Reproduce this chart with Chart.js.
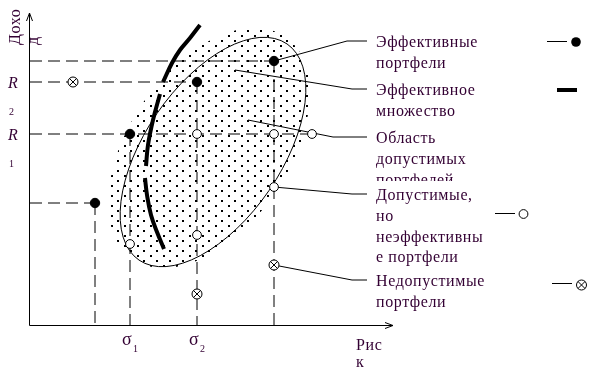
<!DOCTYPE html>
<html>
<head>
<meta charset="utf-8">
<script src="https://cdn.jsdelivr.net/npm/chart.js@4.4.0/dist/chart.umd.min.js"></script>
<style>
  html, body { margin: 0; padding: 0; background: #fff; }
  canvas { display: block; }
</style>
</head>
<body>
<canvas id="chart" width="589" height="368"></canvas>
<script>
// risk (x) / return (y), chart units
const efficientX = [6.5, 10.0, 16.7, 24.4];
const efficientY = [12.2, 19.1, 24.3, 26.4];
const feasibleX = [10.0, 16.7, 16.7, 24.4, 24.4, 28.2];
const feasibleY = [8.1, 19.1, 9.0, 19.1, 13.8, 19.1];
const infeasibleX = [4.3, 16.7, 24.4];
const infeasibleY = [24.3, 3.1, 6.0];

// efficient frontier (null = break in the stroke)
const frontierX = [17.0, 16.0, 15.0, 14.2, 13.3, 13.15, 13.0, 12.3, 11.8, 11.6, 11.55, 11.5, 11.7, 12.1, 12.7, 13.4];
const frontierY = [30.0, 28.7, 27.5, 26.2, 24.3, null, 23.1, 20.5, 18.0, 15.9, null, 14.7, 13.0, 11.0, 9.3, 7.6];

// dashed guides
const guideHY = [26.4, 24.3, 19.1, 12.2];
const guideHEnd = [24.4, 16.7, 28.2, 6.5];
const guideVX = [6.5, 10.0, 16.7, 24.4];
const guideVTop = [12.2, 19.1, 24.3, 26.4];

// feasible set (ellipse) and its stipple
const feasibleSet = { cx: 18.3, cy: 17.3, a: 13.1, b: 6.8, angle: 55.6 };
const stippleSet = { cx: 17.9, cy: 17.7, a: 13.5, b: 8.0, angle: 55.6 };

// tick labels
const sigmaX = [10.0, 16.7];
const sigmaSub = ['1', '2'];
const returnY = [24.3, 19.1];
const returnSub = ['2', '1'];

// callouts: start point -> elbow -> text
const calloutFromX = [24.4, 20.5, 21.8, 24.4, 24.4];
const calloutFromY = [26.4, 25.5, 20.5, 13.8, 6.0];
const calloutElbowX = [31.7, 32.2, 30.3, 32.2, 32.2];
const calloutElbowY = [28.4, 23.6, 18.8, 13.1, 4.5];
const calloutEndX = 33.7;
const calloutText = [
    ['Эффективные', 'портфели'],
    ['Эффективное', 'множество'],
    ['Область', 'допустимых', 'портфелей'],
    ['Допустимые,', 'но', 'неэффективны', 'е портфели'],
    ['Недопустимые', 'портфели']
];

const TEXT = '#330033';
const SERIF = '"Liberation Serif", "Times New Roman", serif';

const pts = (xs, ys) => xs.map((v, i) => ({ x: v, y: ys[i] }));

// staggered dot tile
function makeStipple() {
    const c = document.createElement('canvas');
    c.width = 13; c.height = 10;
    const g = c.getContext('2d');
    g.fillStyle = '#000';
    g.fillRect(0, 0, 2, 2);
    g.fillRect(7, 5, 2, 2);
    return c;
}

const guideStyle = {
    showLine: true, borderColor: '#000', borderWidth: 1, borderDash: [12, 6],
    pointRadius: 0, order: 10
};

const datasets = [];
guideHY.forEach((yv, i) => {
    datasets.push({ ...guideStyle, data: [{ x: 0, y: yv }, { x: guideHEnd[i], y: yv }] });
});
guideVX.forEach((xv, i) => {
    datasets.push({ ...guideStyle, data: [{ x: xv, y: guideVTop[i] }, { x: xv, y: 0 }] });
});
datasets.push({
    data: pts(frontierX, frontierY), showLine: true, spanGaps: false,
    borderColor: '#000', borderWidth: 4, tension: 0.4, pointRadius: 0, order: 8
});
datasets.push({
    data: pts(efficientX, efficientY), pointRadius: 4.7,
    backgroundColor: '#000', borderColor: '#000', borderWidth: 1, order: 3
});
datasets.push({
    data: pts(feasibleX, feasibleY), pointRadius: 4.4,
    backgroundColor: '#fff', borderColor: '#000', borderWidth: 1, order: 3
});
datasets.push({
    data: pts(infeasibleX, infeasibleY), pointRadius: 5,
    backgroundColor: '#fff', borderColor: '#000', borderWidth: 1, order: 2
});
datasets.push({
    data: pts(infeasibleX, infeasibleY), pointRadius: 5, pointStyle: 'crossRot',
    borderColor: '#000', borderWidth: 1, order: 1
});

const overlay = {
    id: 'overlay',
    beforeDatasetsDraw(chart) {
        const { ctx, scales: { x, y } } = chart;
        const px = v => x.getPixelForValue(v);
        const py = v => y.getPixelForValue(v);
        const unit = px(1) - px(0);

        ctx.save();
        ctx.beginPath();
        ctx.ellipse(px(stippleSet.cx), py(stippleSet.cy), stippleSet.a * unit, stippleSet.b * unit,
            -stippleSet.angle * Math.PI / 180, 0, Math.PI * 2);
        ctx.fillStyle = ctx.createPattern(makeStipple(), 'repeat');
        ctx.fill();

        ctx.beginPath();
        ctx.ellipse(px(feasibleSet.cx), py(feasibleSet.cy), feasibleSet.a * unit, feasibleSet.b * unit,
            -feasibleSet.angle * Math.PI / 180, 0, Math.PI * 2);
        ctx.strokeStyle = '#000';
        ctx.lineWidth = 1;
        ctx.stroke();

        // callout leaders
        ctx.beginPath();
        calloutFromX.forEach((v, i) => {
            ctx.moveTo(px(v), py(calloutFromY[i]));
            ctx.lineTo(px(calloutElbowX[i]), py(calloutElbowY[i]));
            ctx.lineTo(px(calloutEndX), py(calloutElbowY[i]));
        });
        ctx.stroke();
        ctx.restore();
    },
    afterDraw(chart) {
        const { ctx, chartArea: area, scales: { x, y } } = chart;
        const px = v => x.getPixelForValue(v);
        const py = v => y.getPixelForValue(v);
        const L = Math.round(area.left) - 0.5;
        const B = Math.round(area.bottom) + 0.5;

        ctx.save();
        ctx.strokeStyle = '#000';
        ctx.lineWidth = 1;
        ctx.beginPath();
        // axes with arrows
        ctx.moveTo(L, B); ctx.lineTo(L, area.top);
        ctx.moveTo(L - 3, area.top + 8); ctx.lineTo(L, area.top); ctx.lineTo(L + 3, area.top + 8);
        ctx.moveTo(L, B); ctx.lineTo(area.right, B);
        ctx.moveTo(area.right - 8, B - 3); ctx.lineTo(area.right, B); ctx.lineTo(area.right - 8, B + 3);
        ctx.stroke();

        ctx.fillStyle = TEXT;
        ctx.textBaseline = 'alphabetic';
        ctx.letterSpacing = '0.6px';

        // y axis title, rotated and wrapped
        ctx.save();
        ctx.translate(20, 45);
        ctx.rotate(-Math.PI / 2);
        ctx.font = '16px ' + SERIF;
        ctx.fillText('Дохо', 0, 0);
        ctx.fillText('д', 0, 18);
        ctx.restore();

        // R ticks (subscripts wrapped below)
        returnY.forEach((v, i) => {
            ctx.font = 'italic 16px ' + SERIF;
            ctx.fillText('R', 8, py(v) + 6);
            ctx.font = '10px ' + SERIF;
            ctx.fillText(returnSub[i], 9, py(v) + 33);
        });

        // sigma ticks
        sigmaX.forEach((v, i) => {
            ctx.font = '18px ' + SERIF;
            ctx.fillText('σ', px(v) - 8, 345);
            ctx.font = '10px ' + SERIF;
            ctx.fillText(sigmaSub[i], px(v) + 3, 352);
        });

        // x axis title, wrapped
        ctx.font = '16px ' + SERIF;
        ctx.fillText('Рис', 356, 350);
        ctx.fillText('к', 356, 367);

        // callout texts
        calloutText.forEach((lines, i) => {
            const y0 = py(calloutElbowY[i]) + 6;
            lines.forEach((t, j) => {
                ctx.save();
                if (i === 2 && j === 2) {
                    ctx.beginPath();
                    ctx.rect(0, 0, 589, 181);
                    ctx.clip();
                }
                ctx.fillText(t, 376, y0 + j * 20.8);
                ctx.restore();
            });
        });

        // legend symbols
        ctx.beginPath();
        ctx.moveTo(547, 41.5); ctx.lineTo(567, 41.5);
        ctx.moveTo(495, 213.5); ctx.lineTo(515, 213.5);
        ctx.moveTo(552, 283.5); ctx.lineTo(572, 283.5);
        ctx.stroke();
        ctx.fillStyle = '#000';
        ctx.beginPath(); ctx.arc(576, 42, 4.8, 0, Math.PI * 2); ctx.fill();
        ctx.fillRect(557, 88, 20, 4);
        ctx.beginPath(); ctx.arc(523.5, 214, 4.4, 0, Math.PI * 2); ctx.stroke();
        ctx.beginPath(); ctx.arc(581.5, 285, 5, 0, Math.PI * 2);
        const d = 5 * Math.SQRT1_2;
        ctx.moveTo(581.5 - d, 285 - d); ctx.lineTo(581.5 + d, 285 + d);
        ctx.moveTo(581.5 + d, 285 - d); ctx.lineTo(581.5 - d, 285 + d);
        ctx.stroke();
        ctx.restore();
    }
};

new Chart(document.getElementById('chart'), {
    type: 'scatter',
    data: { datasets },
    options: {
        responsive: false,
        animation: false,
        layout: { padding: { left: 30, top: 13, right: 196, bottom: 43 } },
        plugins: { legend: { display: false }, tooltip: { enabled: false } },
        scales: {
            x: { type: 'linear', min: 0, max: 36.3, display: false },
            y: { type: 'linear', min: 0, max: 31.2, display: false }
        }
    },
    plugins: [overlay]
});
</script>
</body>
</html>
